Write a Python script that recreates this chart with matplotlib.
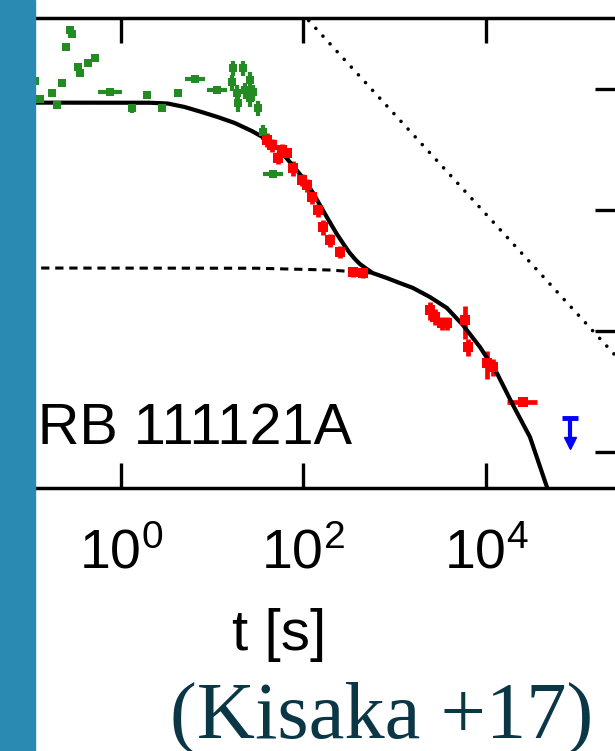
import numpy as np
import matplotlib
matplotlib.use('Agg')
import matplotlib.pyplot as plt
from matplotlib.patches import Rectangle
from matplotlib.ticker import FixedLocator, FuncFormatter, NullLocator

plt.rcParams['font.family'] = 'Liberation Sans'
plt.rcParams['mathtext.fontset'] = 'custom'
plt.rcParams['mathtext.rm'] = 'Liberation Sans'
plt.rcParams['mathtext.it'] = 'Liberation Sans'

# BAT (green) points: time [s], flux, time errors, flux errors
green_t = [0.114, 0.130, 0.175, 0.199, 0.226, 0.25, 0.276, 0.291, 0.338, 0.356, 0.435,
           0.519, 0.758, 1.32, 1.93, 2.81, 4.21, 6.46, 11.3, 16.4, 16.9, 18.7, 19.1,
           21.7, 22.8, 25.9, 25.9, 27.9, 31.7, 35.9, 46.2]
green_f = [1.16e-9, 8.3e-10, 9.3e-10, 7.4e-10, 1.12e-9, 2.22e-9, 3.08e-9, 2.85e-9, 1.52e-9,
           1.36e-9, 1.64e-9, 1.80e-9, 9.4e-10, 6.97e-10, 8.9e-10, 7.0e-10, 9.3e-10, 1.21e-9,
           9.8e-10, 1.14e-9, 1.49e-9, 9.3e-10, 7.7e-10, 1.49e-9, 9.8e-10, 1.19e-9, 8.4e-10,
           9.4e-10, 6.97e-10, 4.41e-10, 1.99e-10]
green_tlo = [0, 0, 0, 0, 0, 0, 0, 0, 0, 0, 0, 0, 0.20, 0, 0, 0, 0, 1.44, 2.55, 0, 0, 0, 0,
             0, 0, 0, 0, 0, 0, 0, 10.3]
green_thi = [0, 0, 0, 0, 0, 0, 0, 0, 0, 0, 0, 0, 0.27, 0, 0, 0, 0, 1.86, 3.2, 0, 0, 0, 0,
             0, 0, 0, 0, 0, 0, 0, 13.3]
green_ferr = [0, 0, 0, 0, 0, 0, 1.5e-10, 1.5e-10, 0, 0, 0, 0, 0, 6e-11, 0, 0, 0, 0, 0,
              1.7e-10, 2.2e-10, 1.4e-10, 1.2e-10, 2.2e-10, 1.5e-10, 1.8e-10, 1.3e-10,
              1.4e-10, 1.0e-10, 6e-11, 0]

# XRT (red) points
red_t = [39.7, 45.1, 52.4, 58.0, 65.8, 76.5, 96.0, 109, 124, 144, 163, 195, 250, 348, 448,
         2420, 2750, 3280, 3720, 5860, 6320, 10200, 11900, 25300]
red_f = [3.79e-10, 3.44e-10, 2.69e-10, 3.13e-10, 2.96e-10, 2.22e-10, 1.77e-10, 1.61e-10,
         1.28e-10, 1.0e-10, 7.24e-11, 5.65e-11, 4.50e-11, 3.08e-11, 3.02e-11, 1.49e-11,
         1.31e-11, 1.16e-11, 1.16e-11, 1.23e-11, 7.38e-12, 5.44e-12, 5.04e-12, 2.59e-12]
red_tlo = [3, 3, 4, 4, 5, 6, 6, 7, 8, 8, 8, 10, 15, 25, 30,
           150, 150, 200, 200, 200, 300, 500, 500, 8400]
red_thi = [3, 3, 4, 4, 5, 6, 6, 7, 8, 8, 8, 10, 15, 25, 30,
           150, 150, 200, 200, 200, 300, 500, 500, 10700]
red_ferr = [5e-11, 4e-11, 3e-11, 4e-11, 3e-11, 3e-11, 2e-11, 2e-11, 1.5e-11, 1.2e-11, 1e-11,
            7e-12, 5e-12, 3e-12, 3e-12, 2.5e-12, 2e-12, 1.5e-12, 1.5e-12, 3.7e-12, 1.2e-12,
            1.4e-12, 8e-13, 2e-13]

# upper limit (blue)
ul_t = [82800]
ul_f = [1.91e-12]

# model: total and second component
model_t = [0.01, 2.08, 3.27, 5.02, 7.71, 11.5, 17.7, 27.2, 40.8, 55.2, 71.0, 91.4, 109, 133,
           163, 194, 232, 284, 322, 366, 415, 495, 575, 819, 1137, 1578, 2422, 3720, 5570,
           8550, 13100, 19700, 30200, 46300, 52600]
model_f = [7.73e-10, 7.70e-10, 7.59e-10, 7.10e-10, 6.45e-10, 5.87e-10, 5.24e-10, 4.50e-10,
           3.79e-10, 3.13e-10, 2.49e-10, 1.98e-10, 1.67e-10, 1.31e-10, 1.0e-10, 7.96e-11,
           6.34e-11, 5.04e-11, 4.41e-11, 3.94e-11, 3.58e-11, 3.25e-11, 3.01e-11, 2.74e-11,
           2.49e-11, 2.27e-11, 1.91e-11, 1.55e-11, 1.12e-11, 7.38e-12, 4.50e-12, 2.44e-12,
           1.33e-12, 5.14e-13, 4.01e-13]
dash_t = [0.01, 31, 194, 575, 819]
dash_f = [3.32e-11, 3.30e-11, 3.19e-11, 3.01e-11, 2.74e-11]

# dotted reference slope
slope_t = [80, 4e5]
slope_f = [4.94e-9, 4.40e-12]

W, H = 615, 751
fig = plt.figure(figsize=(W / 100, H / 100), dpi=100)
ax = fig.add_axes([-62 / W, 263 / H, 682 / W, 470 / H])
ax.set_xscale('log')
ax.set_yscale('log')

ax.plot(slope_t, slope_f, color='black', lw=2.6, ls=(0, (0.01, 2.9)), dash_capstyle='round')
ax.plot(dash_t, dash_f, color='black', lw=2.2, ls=(0, (2.7, 1.9)))

ax.errorbar(green_t, green_f, xerr=[green_tlo, green_thi], yerr=green_ferr, fmt='s',
            color='forestgreen', ms=5.5, elinewidth=3.0, capsize=0, mew=0)
ax.errorbar(red_t, red_f, xerr=[red_tlo, red_thi], yerr=red_ferr, fmt='s',
            color='red', ms=6.5, elinewidth=3.4, capsize=0, mew=0)

ax.plot(model_t, model_f, color='black', lw=3.0, solid_joinstyle='round')

ul_lo = [f * 0.62 for f in ul_f]
ax.vlines(ul_t, ul_lo, ul_f, color='blue', lw=3.0)
ax.plot(ul_t, ul_f, marker='_', ms=12, mew=3.5, color='blue', ls='none')
ax.plot(ul_t, ul_lo, marker='v', ms=9, color='blue', ls='none')

ax.set_xlim(1e-2, 10 ** 5.466)
ax.set_ylim(10 ** -12.298, 10 ** -8.413)

ax.xaxis.set_major_locator(FixedLocator([1e-2, 1e0, 1e2, 1e4]))
ax.xaxis.set_minor_locator(NullLocator())
ax.yaxis.set_major_locator(FixedLocator([1e-12, 1e-11, 1e-10, 1e-9]))
ax.yaxis.set_minor_locator(NullLocator())
ax.xaxis.set_major_formatter(FuncFormatter(lambda v, p: r'$10^{%d}$' % round(np.log10(v))))
ax.tick_params(which='major', direction='in', length=18, width=2.4, top=True, right=True,
               labelleft=False, labelsize=40, pad=29)
for s in ax.spines.values():
    s.set_linewidth(2.5)

ax.set_xlabel('t [s]', fontsize=42, labelpad=20)
ax.text(0.607, 0.0915, 'GRB 111121A', transform=ax.transAxes, fontsize=41.5,
        ha='right', va='baseline')

fig.add_artist(Rectangle((0, 0), 35 / W, 1, transform=fig.transFigure,
                         color='#2b8ab1', zorder=10))
fig.text(382 / W, 13 / H, '(Kisaka +17)', family='Liberation Serif', fontsize=58,
         color='#0a3646', ha='center', va='baseline')

fig.savefig('out.png', dpi=100)
